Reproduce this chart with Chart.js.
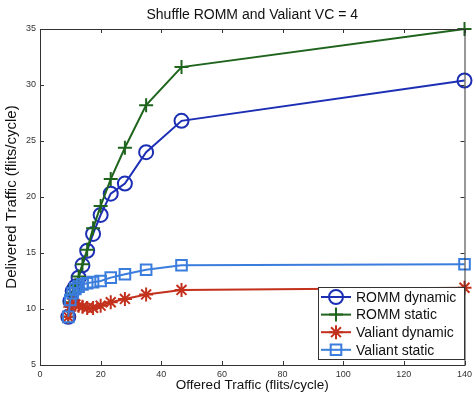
<!DOCTYPE html>
<html>
<head>
<meta charset="utf-8">
<script src="https://cdn.jsdelivr.net/npm/chart.js@4.4.0/dist/chart.umd.min.js"></script>
<style>
  html, body { margin:0; padding:0; background:#fff; }
  #wrap { width:474px; height:399px; }
</style>
</head>
<body>
<div id="wrap"><canvas id="chart" width="474" height="399"></canvas></div>
<script>
// ── Data ──────────────────────────────────────────────────────
const offered      = [9.33, 10, 10.77, 11.67, 12.73, 14, 15.56, 17.5, 20, 23.33, 28, 35, 46.67, 140];
const rommDynamic  = [9.3, 10.7, 11.6, 12.0, 12.8, 13.9, 15.2, 16.7, 18.4, 20.3, 21.2, 24.0, 26.8, 30.4];
const rommStatic   = [9.3, 10.6, 11.4, 12.1, 12.9, 14.0, 15.3, 17.2, 19.2, 21.6, 24.4, 28.2, 31.6, 35.0];
const valDynamic   = [9.3, 10.2, 10.5, 10.4, 10.3, 10.2, 10.1, 10.1, 10.3, 10.6, 10.9, 11.3, 11.7, 11.9];
const valStatic    = [9.3, 10.8, 11.4, 11.8, 12.0, 12.2, 12.3, 12.4, 12.5, 12.8, 13.1, 13.5, 13.9, 14.0];
const xTicks       = [0, 20, 40, 60, 80, 100, 120, 140];
const yTicks       = [5, 10, 15, 20, 25, 30, 35];

const FONT = "'Liberation Sans', Arial, sans-serif";

const series = [
  { label:'ROMM dynamic',    data:rommDynamic, color:'#1c2fb4', style:'circle', radius:7,   order:4 },
  { label:'ROMM static',     data:rommStatic,  color:'#1f641c', style:'cross',  radius:7,   order:3 },
  { label:'Valiant dynamic', data:valDynamic,  color:'#c3301c', style:'star',   radius:7,   order:2 },
  { label:'Valiant static',  data:valStatic,   color:'#3b7ddc', style:'rect',   radius:7.5, order:1 },
];

function pts(ys) { return offered.map((x, i) => ({ x, y: ys[i] })); }

// ── Box, inward ticks and legend (MATLAB look) ───────────────
const matlabAxes = {
  id: 'matlabAxes',
  afterDraw(chart) {
    const { ctx, chartArea: a, scales } = chart;
    ctx.save();
    ctx.strokeStyle = '#333';
    ctx.lineWidth = 1;
    ctx.strokeRect(a.left + 0.5, a.top + 0.5, a.right - a.left, a.bottom - a.top);
    ctx.beginPath();
    xTicks.forEach(v => {
      const px = Math.round(scales.x.getPixelForValue(v)) + 0.5;
      ctx.moveTo(px, a.bottom); ctx.lineTo(px, a.bottom - 4);
      ctx.moveTo(px, a.top);    ctx.lineTo(px, a.top + 4);
    });
    yTicks.forEach(v => {
      const py = Math.round(scales.y.getPixelForValue(v)) + 0.5;
      ctx.moveTo(a.left, py);  ctx.lineTo(a.left + 4, py);
      ctx.moveTo(a.right, py); ctx.lineTo(a.right - 4, py);
    });
    ctx.stroke();

    // legend
    const L = { x: 318, y: 287, w: 146, h: 72 };
    ctx.fillStyle = '#fff';
    ctx.fillRect(L.x, L.y, L.w, L.h);
    ctx.strokeStyle = '#333';
    ctx.strokeRect(L.x + 0.5, L.y + 0.5, L.w, L.h);
    ctx.font = '14px ' + FONT;
    ctx.textBaseline = 'middle';
    series.forEach((s, i) => {
      const y = L.y + 10 + i * 17.6;
      ctx.strokeStyle = s.color;
      ctx.lineWidth = 2;
      ctx.beginPath(); ctx.moveTo(L.x + 3, y); ctx.lineTo(L.x + 33, y); ctx.stroke();
      ctx.fillStyle = 'rgba(0,0,0,0)';
      Chart.helpers.drawPoint(ctx, { pointStyle: s.style, radius: s.radius, rotation: 0, borderWidth: 2 }, L.x + 18, y);
      ctx.fillStyle = '#111';
      ctx.fillText(s.label, L.x + 38, y + 1);
    });
    ctx.restore();
  }
};

new Chart(document.getElementById('chart'), {
  type: 'line',
  data: {
    datasets: series.map(s => ({
      label: s.label,
      data: pts(s.data),
      order: s.order,
      borderColor: s.color,
      borderWidth: 2,
      pointStyle: s.style,
      pointRadius: s.radius,
      pointBorderColor: s.color,
      pointBackgroundColor: 'rgba(0,0,0,0)',
      pointBorderWidth: 2,
      tension: 0,
      clip: false,
    }))
  },
  options: {
    responsive: false,
    animation: false,
    devicePixelRatio: 1,
    layout: { padding: { top: 0, right: 8, left: 0, bottom: 0 } },
    plugins: {
      legend: { display: false },
      tooltip: { enabled: false },
      title: {
        display: true,
        fullSize: false,
        text: 'Shuffle ROMM and Valiant VC = 4',
        color: '#111',
        font: { family: FONT, size: 14, weight: 'normal' },
        padding: { top: 6.6, bottom: 5.6 },
      },
    },
    scales: {
      x: {
        type: 'linear', min: 0, max: 140,
        afterBuildTicks: sc => { sc.ticks = xTicks.map(v => ({ value: v })); },
        grid: { display: false, drawTicks: false }, border: { display: false },
        ticks: { color: '#333', font: { family: FONT, size: 9 }, padding: 4, maxRotation: 0 },
        title: { display: true, text: 'Offered Traffic (flits/cycle)', color: '#111',
                 font: { family: FONT, size: 13.5 }, padding: { top: 2, bottom: 5.9 } },
        afterFit: sc => { sc.height = 34; sc.paddingLeft = 0; sc.paddingRight = 0; },
      },
      y: {
        type: 'linear', min: 5, max: 35,
        afterBuildTicks: sc => { sc.ticks = yTicks.map(v => ({ value: v })); },
        grid: { display: false, drawTicks: false }, border: { display: false },
        ticks: { color: '#333', font: { family: FONT, size: 9 }, padding: 4 },
        title: { display: true, text: 'Delivered Traffic (flits/cycle)', color: '#111',
                 font: { family: FONT, size: 15 }, padding: { top: 3, bottom: 4 } },
        afterFit: sc => { sc.width = 40; sc.paddingTop = 0; sc.paddingBottom = 0; },
      },
    },
  },
  plugins: [matlabAxes],
});
</script>
</body>
</html>
